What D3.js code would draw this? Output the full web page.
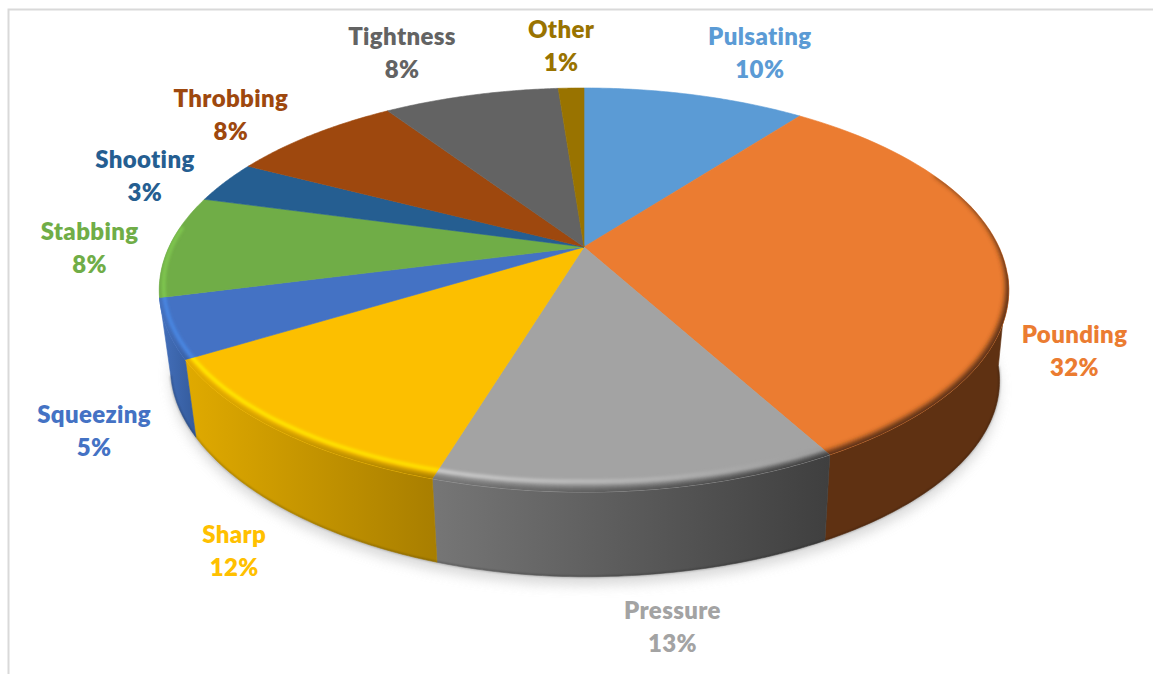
<!DOCTYPE html>
<html><head><meta charset="utf-8">
<script src="https://cdn.jsdelivr.net/npm/d3@7/dist/d3.min.js"></script>
<style>html,body{margin:0;padding:0;background:#fff;overflow:hidden}svg{display:block}</style>
</head><body>
<svg id="c" width="1153" height="674"></svg>
<script>
const categories = ["Pulsating","Pounding","Pressure","Sharp","Squeezing","Stabbing","Shooting","Throbbing","Tightness","Other"];
const shares = [10.4,31.6,12.7,11.6,4.7,8.2,3.4,8.0,8.2,1.2];
const faceColors = ["#5B9BD5","#EB7C31","#A3A3A3","#FCBF00","#4472C4","#70AD47","#255E91","#9E480E","#636363","#997300"];
const wallLeft  = ["#5B9BD5","#5F3112","#767676","#E0AA00","#4470BC","#70AD47","#255E91","#9E480E","#636363","#997300"];
const wallRight = ["#5B9BD5","#5F3112","#3F3F3F","#A87E00","#345B9C","#70AD47","#255E91","#9E480E","#636363","#997300"];
const glowLeft  = [null,null,"#D4D4D4","#FFEA00","#4A88E4","#80C850",null,null,null,null];
const glowRight = [null,null,"#9A9A9A","#FFE000","#4A88E4","#80C850",null,null,null,null];
const labelNudge = [[65,-42],[70,89],[34,137],[-44,121],[-73,102],[-80,2],[-80,-6],[-82,-19],[-69,-42],[-10,-42]];

const svg = d3.select("#c");
const defs = svg.append("defs");
const blur = (id,s)=>defs.append("filter").attr("id",id)
  .attr("x","-30%").attr("y","-30%").attr("width","160%").attr("height","160%")
  .append("feGaussianBlur").attr("stdDeviation",s);
blur("b1",1); blur("b15",1.6); blur("b3",2.6); blur("b6",6);

// frame
svg.append("path").attr("d","M8.5 674V9.5H1153").attr("fill","none").attr("stroke","#d9d9d9").attr("stroke-width",2);

// perspective projection of the pie's unit disc onto the page
const cx=584, cy=247, A=415, B=192.9, k=0.213;
const project=(t,r)=>{const s=Math.sin(t)*r,c=Math.cos(t)*r,w=1+k*c;return [cx+A*s/w, cy-B*c/w];};
const projectBase=(t,r)=>{
  const p=project(t,r), dx=p[0]-cx, lift=dx<0?11*Math.pow(dx/396,2):0;
  return [585+0.976*dx,339+0.97*(p[1]-cy)-lift];
};
const rad=d=>d*Math.PI/180;
const arcPts=(a0,a1,r,f)=>d3.range(0,61).map(i=>{const t=a0+(a1-a0)*i/60;return f(t,typeof r==="function"?r(t):r);});
const line=d3.line();
// rim roll-off width around the disc, thin at the sides, widest at the front
const rimWidth=d3.scaleLinear().domain([72,110,180,240,270].map(rad)).range([0,.018,.035,.016,.006]).clamp(true);

const pie=d3.pie().sort(null)(shares);

// ground shadow
const full=arcPts(0,2*Math.PI,1,(t,r)=>{const p=projectBase(t,r);return [p[0],p[1]+9];});
svg.append("path").attr("d",line(full)+"Z").attr("fill","#cfcfcf").attr("opacity",.75).attr("filter","url(#b6)");

// side walls
const frontA=rad(98), frontB=pie[4].endAngle;
pie.forEach((d,i)=>{
  const a0=Math.max(d.startAngle,frontA), a1=Math.min(d.endAngle,frontB);
  if(a1<=a0) return;
  const top=arcPts(a0,a1,1,project), base=arcPts(a0,a1,1,projectBase).reverse();
  const xs=top.concat(base).map(p=>p[0]);
  const g=defs.append("linearGradient").attr("id","w"+i).attr("gradientUnits","userSpaceOnUse")
    .attr("x1",d3.min(xs)).attr("x2",d3.max(xs)).attr("y1",0).attr("y2",0);
  g.append("stop").attr("offset",0).attr("stop-color",wallLeft[i]);
  g.append("stop").attr("offset",1).attr("stop-color",wallRight[i]);
  svg.append("path").attr("d",line(top.concat(base))+"Z").attr("fill",`url(#w${i})`).attr("stroke",`url(#w${i})`).attr("stroke-width",.6);
  svg.append("path").attr("d",line(base)).attr("fill","none").attr("stroke","#000").attr("stroke-opacity",.3).attr("stroke-width",1.5).attr("filter","url(#b1)");
});

// top faces: solid, seam-free first
pie.forEach((d,i)=>{
  const outline=[[cx,cy]].concat(arcPts(d.startAngle,d.endAngle,1,project));
  svg.append("path").attr("d",line(outline)+"Z").attr("fill",faceColors[i]).attr("stroke",faceColors[i]).attr("stroke-width",.6);
});
// then the rounded rim, clipped to each slice
pie.forEach((d,i)=>{
  const a0=Math.max(d.startAngle,rad(72)), a1=Math.min(d.endAngle,rad(270));
  if(a1<=a0) return;
  const outline=[[cx,cy]].concat(arcPts(d.startAngle,d.endAngle,1,project));
  const cid="clip"+i;
  defs.append("clipPath").attr("id",cid).append("path").attr("d",line(outline)+"Z");
  const gp=svg.append("g").attr("clip-path",`url(#${cid})`);
  const pad=rad(6), b0=a0-pad, b1=a1+pad;
  const band=arcPts(b0,b1,1.03,project).concat(arcPts(b0,b1,t=>1-rimWidth(t)*.5,project).reverse());
  const hasWall=document.getElementById("w"+i);
  gp.append("path").attr("d",line(band)+"Z").attr("fill",hasWall?`url(#w${i})`:wallLeft[i]).attr("filter","url(#b3)");
  if(glowLeft[i]){
    const arc=arcPts(b0,b1,t=>1-rimWidth(t),project), xs=arc.map(p=>p[0]);
    const g=defs.append("linearGradient").attr("id","g"+i).attr("gradientUnits","userSpaceOnUse")
      .attr("x1",d3.min(xs)).attr("x2",d3.max(xs)).attr("y1",0).attr("y2",0);
    g.append("stop").attr("offset",0).attr("stop-color",glowLeft[i]);
    g.append("stop").attr("offset",1).attr("stop-color",glowRight[i]);
    gp.append("path").attr("d",line(arc)).attr("fill","none").attr("stroke",`url(#g${i})`)
      .attr("stroke-width",3.5).attr("filter","url(#b15)");
  }
});

// labels
const fmt=d3.format(".0f");
pie.forEach((d,i)=>{
  const p=project((d.startAngle+d.endAngle)/2,1);
  const x=p[0]+labelNudge[i][0], y=p[1]+labelNudge[i][1];
  const t=svg.append("text").attr("text-anchor","middle").attr("fill",faceColors[i]==="#FCBF00"?"#FFC000":faceColors[i])
    .attr("font-family","Lato, 'Open Sans', sans-serif").attr("font-weight",800).attr("font-size",24)
    .style("font-variant-ligatures","none").style("letter-spacing","0.35px");
  t.append("tspan").attr("x",x).attr("y",y-8).text(categories[i]);
  t.append("tspan").attr("x",x).attr("y",y+25).text(fmt(shares[i])+"%");
});
</script>
</body></html>
